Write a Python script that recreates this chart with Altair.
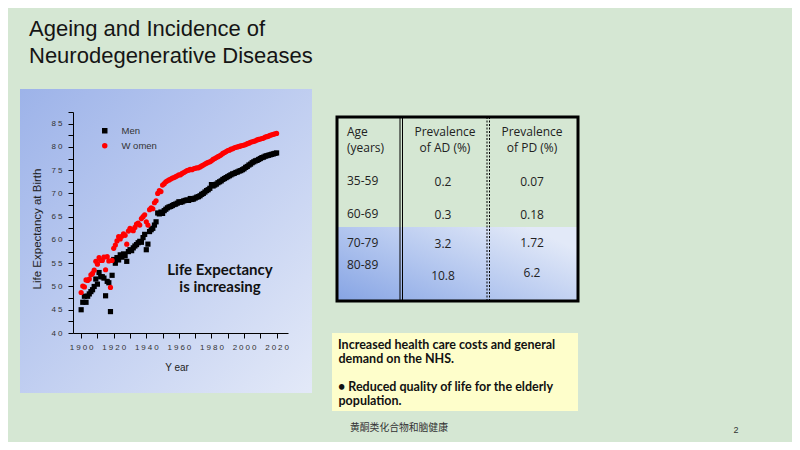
import altair as alt
import pandas as pd

# ---------------- data ----------------
years = list(range(1900, 2021))
men = [45.0, 46.6, 47.9, 46.6, 47.9, 48.4, 48.9, 49.3, 50.0, 51.6,
       50.5, 53.0, 52.1, 52.1, 51.8, 48.0, 51.1, 50.8, 44.6, 52.4,
       55.8, 55.0, 56.2, 55.7, 56.8, 56.3, 57.0, 56.6, 55.4, 57.5,
       57.9, 57.7, 58.3, 58.7, 59.0, 59.4, 59.7, 59.5, 60.5, 61.2,
       57.9, 59.1, 61.8, 62.2, 62.5, 63.2, 63.9, 65.8, 65.6, 66.0,
       65.7, 66.3, 66.6, 66.9, 67.1, 67.2, 67.4, 67.6, 67.7, 67.9,
       68.2, 68.1, 68.2, 68.4, 68.5, 68.6, 68.5, 68.9, 68.7, 68.8,
       69.0, 69.2, 69.3, 69.5, 69.8, 70.0, 70.3, 70.6, 70.8, 71.1,
       71.9, 71.6, 71.8, 72.0, 72.3, 72.5, 72.7, 73.0, 73.2, 73.4,
       73.6, 73.8, 74.0, 74.2, 74.3, 74.5, 74.6, 74.8, 74.9, 75.1,
       75.3, 75.6, 75.8, 76.1, 76.3, 76.6, 76.8, 77.0, 77.1, 77.3,
       77.5, 77.7, 77.8, 78.0, 78.1, 78.2, 78.3, 78.4, 78.5, 78.6,
       78.7]
women = [48.7, 50.1, 49.9, 51.4, 51.3, 51.6, 52.5, 52.8, 53.5, 55.4,
         54.8, 56.2, 55.6, 55.6, 56.3, 53.6, 56.4, 55.5, 49.8, 55.6,
         58.2, 58.9, 59.8, 60.7, 60.2, 60.8, 61.3, 61.0, 59.1, 61.9,
         62.5, 62.2, 62.0, 62.7, 63.4, 63.6, 63.2, 64.6, 65.0, 65.4,
         63.9, 63.2, 66.5, 66.9, 66.7, 68.0, 68.4, 70.0, 70.6, 70.4,
         71.8, 72.1, 72.5, 72.7, 72.9, 73.1, 73.3, 73.4, 73.6, 73.8,
         74.0, 74.0, 74.3, 74.5, 74.7, 74.9, 75.0, 75.2, 75.1, 75.3,
         75.4, 75.5, 75.5, 75.7, 75.9, 76.1, 76.3, 76.5, 76.7, 76.8,
         77.0, 77.3, 77.5, 77.7, 77.9, 78.1, 78.3, 78.6, 78.8, 79.0,
         79.2, 79.3, 79.5, 79.6, 79.8, 79.9, 80.0, 80.1, 80.2, 80.3,
         80.4, 80.5, 80.7, 80.8, 81.0, 81.1, 81.2, 81.3, 81.5, 81.6,
         81.7, 81.8, 81.9, 82.1, 82.2, 82.3, 82.5, 82.6, 82.7, 82.8,
         82.9]
series = ["Men", "Women"]

x_ticks = list(range(1900, 2021, 10))
y_ticks = [40 + 2.5 * i for i in range(20)]

table_header = [["Age", "(years)"], ["Prevalence", "of AD (%)"], ["Prevalence", "of PD (%)"]]
ages = ["35-59", "60-69", "70-79", "80-89"]
prev_ad = ["0.2", "0.3", "3.2", "10.8"]
prev_pd = ["0.07", "0.18", "1.72", "6.2"]

title_lines = ["Ageing and Incidence of", "Neurodegenerative Diseases"]
note_lines = [" Increased health care costs and general", "demand on the NHS.",
              "\u2022 Reduced quality of life for the elderly", "population."]
footer = "黄酮类化合物和脑健康"

# ---------------- layout ----------------
OX, OY = 73, 112          # page position of plot origin
W, H = 215, 221


def X(p):
    return p - OX


def Y(p):
    return p - OY


one = pd.DataFrame({"k": [0]})


def txt(s, x, y, size, font="Liberation Sans", weight="normal", color="#111111",
        align="left", baseline="middle", angle=0):
    return alt.Chart(one).mark_text(
        text=s, fontSize=size, font=font, fontWeight=weight, color=color,
        align=align, baseline=baseline, angle=angle
    ).encode(x=alt.value(X(x)), y=alt.value(Y(y)))


def rect(x1, y1, x2, y2, **kw):
    return alt.Chart(one).mark_rect(**kw).encode(
        x=alt.value(X(x1)), x2=alt.value(X(x2)), y=alt.value(Y(y1)), y2=alt.value(Y(y2)))


def vrule(x, y1, y2, **kw):
    return alt.Chart(one).mark_rule(**kw).encode(
        x=alt.value(X(x)), y=alt.value(Y(y1)), y2=alt.value(Y(y2)))


layers = []

# chart panel background
panel_grad = alt.LinearGradient(
    gradient="linear",
    stops=[alt.GradientStop(color="#9db3e9", offset=0),
           alt.GradientStop(color="#e3e9f8", offset=1)],
    x1=0, y1=0, x2=1, y2=1)
layers.append(rect(20, 89, 312, 393, color=panel_grad))

# title
layers.append(txt(title_lines[0], 29, 36, 22, baseline="alphabetic", color="#151515"))
layers.append(txt(title_lines[1], 29, 63, 22, baseline="alphabetic", color="#151515"))

# table blue rows
tab_grad = alt.LinearGradient(
    gradient="linear",
    stops=[alt.GradientStop(color="#86a4e4", offset=0),
           alt.GradientStop(color="#b4c7ef", offset=0.5),
           alt.GradientStop(color="#e2e9f8", offset=1)],
    x1=0, y1=1, x2=1, y2=0.3)
layers.append(rect(337, 227, 578, 301, color=tab_grad))

# table lines
layers.append(rect(337, 117, 578, 301, fill="transparent", stroke="#000000", strokeWidth=3))
layers.append(vrule(400, 117, 301, color="#000000", strokeWidth=1))
layers.append(vrule(402.5, 117, 301, color="#000000", strokeWidth=1))
layers.append(vrule(487, 117, 301, color="#000000", strokeWidth=1, strokeDash=[2, 1.5]))
layers.append(vrule(489.5, 117, 301, color="#000000", strokeWidth=1, strokeDash=[2, 1.5]))

# table text
TF = "Open Sans"
col_x = [347, 445, 532]
col_align = ["left", "center", "center"]
for ci, hdr in enumerate(table_header):
    layers.append(txt(hdr[0], col_x[ci], 132, 12, font=TF, align=col_align[ci], color="#222222"))
    layers.append(txt(hdr[1], col_x[ci], 148, 12, font=TF, align=col_align[ci], color="#222222"))
age_y = [181, 214, 243, 265]
ad_y = [182, 215, 244, 276]
pd_y = [182, 215, 243, 273]
for i in range(len(ages)):
    layers.append(txt(ages[i], 347, age_y[i], 12, font=TF, color="#222222"))
    layers.append(txt(prev_ad[i], 443, ad_y[i], 12, font=TF, align="center", color="#222222"))
    layers.append(txt(prev_pd[i], 532, pd_y[i], 12, font=TF, align="center", color="#222222"))

# yellow note
layers.append(rect(332, 333, 578, 411, color="#fefecb"))
note_y = [345, 358.5, 386.5, 400.5]
note_x = [338, 338.5, 338, 338.5]
for i, line in enumerate(note_lines):
    layers.append(txt(line, note_x[i], note_y[i], 12.5, font="Lato", weight="bold", color="#111111"))

# footer
layers.append(txt(footer, 350, 428, 9.8, font="Noto Sans CJK SC", color="#333333"))
layers.append(txt("2", 736, 430, 9, color="#333333", align="center"))

# chart annotations
layers.append(txt("Life Expectancy", 220, 270, 15, font="Lato", weight="bold", align="center"))
layers.append(txt("is increasing", 220, 287, 15, font="Lato", weight="bold", align="center"))
layers.append(txt("Life Expectancy at Birth", 38, 229, 11.5, angle=270, align="center", color="#222222"))
layers.append(txt("Y ear", 177, 368, 10, align="center", color="#222222"))

# scatter
df = pd.DataFrame({
    "year": years * 2,
    "value": men + women,
    "sex": [series[0]] * len(men) + [series[1]] * len(women),
})

spaced = "replace(format(datum.value, 'd'), regexp('([0-9])(?=[0-9])', 'g'), '$1\u2005')"
leg = alt.Legend(title=None, orient="none", legendX=27, legendY=14, padding=0,
                 labelFont="Liberation Sans", labelFontSize=9.5, labelColor="#333333",
                 labelOffset=12, rowPadding=4, symbolSize=30, symbolStrokeWidth=0,
                 labelExpr="datum.label == 'Women' ? 'W omen' : datum.label")

scatter = alt.Chart(df).mark_point(filled=True, opacity=1, size=27).encode(
    x=alt.X("year:Q",
            scale=alt.Scale(domain=[1895, 2027], nice=False, zero=False),
            axis=alt.Axis(values=x_ticks, title=None, grid=False, tickSize=5,
                          labelExpr="datum.value % 20 == 0 ? " + spaced + " : ''",
                          labelFont="Liberation Sans", labelFontSize=8, labelColor="#333333",
                          labelPadding=5, labelFlush=False, labelOverlap=False,
                          domainColor="#000000", tickColor="#000000", zindex=1)),
    y=alt.Y("value:Q",
            scale=alt.Scale(domain=[40, 87.5], nice=False, zero=False),
            axis=alt.Axis(values=y_ticks, title=None, grid=False, tickSize=5,
                          labelExpr="datum.value % 5 == 0 ? " + spaced + " : ''",
                          labelFont="Liberation Sans", labelFontSize=8, labelColor="#333333",
                          labelPadding=6, labelFlush=False, labelOverlap=False,
                          domainColor="#000000", tickColor="#000000", zindex=1)),
    color=alt.Color("sex:N", scale=alt.Scale(domain=series, range=["#000000", "#ff0000"]), legend=leg),
    shape=alt.Shape("sex:N", scale=alt.Scale(domain=series, range=["square", "circle"]), legend=leg),
)
layers.append(scatter)

chart = alt.layer(*layers).properties(
    width=W, height=H,
    padding={"left": OX - 8, "top": OY - 8, "right": 784 - (OX - 8) - W, "bottom": 434 - (OY - 8) - H},
    autosize=alt.AutoSizeParams(type="none"),
    background="#d5e7d3",
).configure_view(stroke=None)

chart.save("out.html", embed_options={"renderer": "svg", "actions": False})
